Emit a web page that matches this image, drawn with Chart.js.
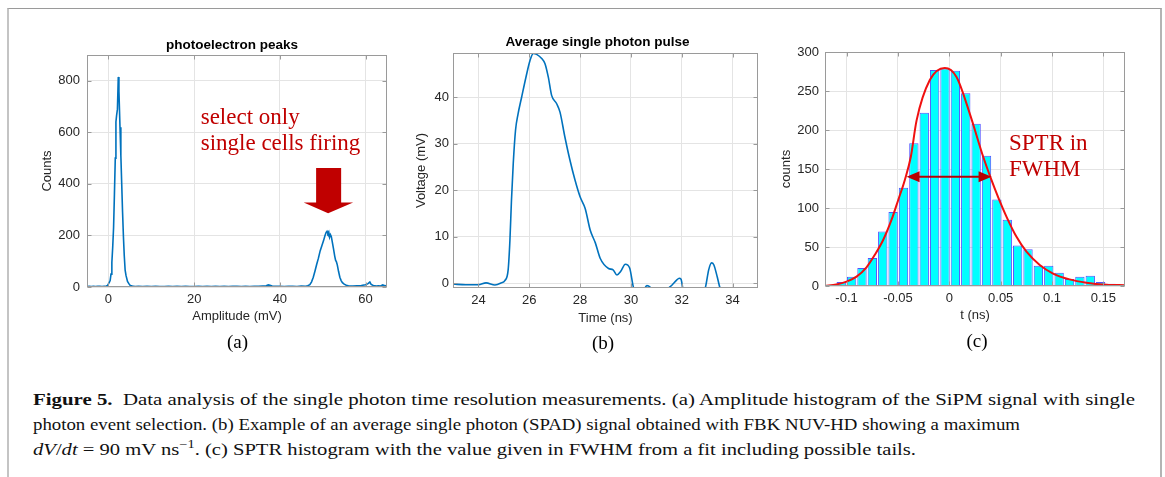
<!DOCTYPE html>
<html><head><meta charset="utf-8">
<script src="https://cdn.jsdelivr.net/npm/chart.js@4/dist/chart.umd.min.js"></script>
<style>
html,body{margin:0;padding:0;background:#fff;}
#fig{position:relative;width:1165px;height:477px;overflow:hidden;background:#fff;}
canvas{position:absolute;top:0;}
.t{position:absolute;white-space:nowrap;}
.ttl{font:bold 13.5px "Liberation Sans",Arial,sans-serif;line-height:16px;color:#000;transform:translateX(-50%);}
.lab{font:19px "Liberation Serif","Times New Roman",serif;line-height:22px;color:#000;transform:translateX(-50%);}
.ann{font:23px "Liberation Serif","Times New Roman",serif;line-height:26px;color:#c00000;}
.cap{font:17px "Liberation Serif","Times New Roman",serif;line-height:20px;color:#111;transform-origin:0 0;left:33px;}
.cap sup{font-size:0.7em;line-height:0;vertical-align:0.55em;}
.frame{position:absolute;left:7px;top:8px;width:1151px;height:520px;border-top:1px solid #9a9a9a;border-left:2px solid #c4c4c4;border-right:2px solid #b4b4b4;}
</style></head>
<body>
<div id="fig">
<div class="frame"></div>
<canvas id="ca" width="400" height="360" style="left:0px"></canvas>
<canvas id="cb" width="380" height="360" style="left:400px"></canvas>
<canvas id="cc" width="395" height="360" style="left:770px"></canvas>

<div class="t ttl" style="left:232px;top:36.5px">photoelectron peaks</div>
<div class="t ttl" style="left:597.6px;top:34px">Average single photon pulse</div>

<div class="t ann" style="left:200.7px;top:104px">select only<br>single cells firing</div>
<div class="t ann" style="left:1009px;top:130px">SPTR in<br>FWHM</div>

<div class="t lab" style="left:237.5px;top:331px">(a)</div>
<div class="t lab" style="left:603px;top:332px">(b)</div>
<div class="t lab" style="left:977px;top:330px">(c)</div>

<div class="t cap" data-w="1102" style="top:390px"><b>Figure 5.</b>&nbsp; Data analysis of the single photon time resolution measurements. (a) Amplitude histogram of the SiPM signal with single</div>
<div class="t cap" data-w="987" style="top:415px">photon event selection. (b) Example of an average single photon (SPAD) signal obtained with FBK NUV-HD showing a maximum</div>
<div class="t cap" data-w="883" style="top:439.5px"><i>dV</i>/<i>dt</i> = 90 mV ns<sup>−1</sup>. (c) SPTR histogram with the value given in FWHM from a fit including possible tails.</div>
</div>

<script>
// ---------- Panel (a): photoelectron peaks ----------
const ampX = [-5, -4.5, -4, -3.5, -3, -2.5, -2, -1.5, -1, -0.5, -0.2, 0, 0.2, 0.4, 0.6, 0.8, 1.0, 1.2, 1.4, 1.6, 1.75, 1.9, 2.1, 2.3, 2.45, 2.7, 2.9, 3.1, 3.3, 3.5, 3.7, 3.9, 4.1, 4.45, 4.8, 5.1, 5.6, 6.2, 7, 8, 9, 10, 11, 12, 13, 14, 15, 16, 17, 18, 19, 20, 21, 22, 23, 24, 25, 26, 27, 28, 29, 30, 31, 32, 33, 34, 35, 36, 36.8, 37.3, 37.7, 38.2, 39, 40, 41, 42, 43, 44, 45, 46, 46.5, 47, 47.4, 47.8, 48.2, 48.6, 49, 49.4, 49.8, 50.2, 50.5, 50.8, 51.0, 51.2, 51.4, 51.6, 51.8, 52.0, 52.2, 52.5, 52.8, 53.0, 53.2, 53.4, 53.7, 54.0, 54.3, 54.6, 55.0, 55.5, 56, 57, 58, 59, 60, 60.5, 61, 61.3, 61.8, 62.5, 63, 63.5, 64, 64.5, 65];
const ampCounts = [2, 3, 2, 3, 2, 3, 3, 2, 3, 4, 6, 12, 18, 25, 50, 95, 155, 230, 360, 500, 640, 665, 690, 815, 760, 620, 510, 400, 290, 195, 120, 65, 45, 22, 12, 6, 4, 2, 3, 2, 3, 2, 3, 2, 2, 3, 2, 3, 2, 3, 2, 2, 3, 2, 3, 2, 3, 2, 3, 2, 3, 3, 2, 3, 2, 3, 3, 4, 5, 8, 7, 4, 3, 3, 2, 3, 3, 2, 4, 3, 5, 9, 20, 38, 62, 88, 112, 140, 160, 180, 198, 212, 216, 208, 214, 193, 203, 196, 178, 150, 120, 104, 98, 86, 60, 38, 25, 17, 11, 7, 5, 4, 5, 6, 9, 12, 19, 10, 6, 4, 5, 4, 8, 5, 6];
const aXTicks = [0, 20, 40, 60];
const aXLabels = ['0', '20', '40', '60'];
const aYTicks = [0, 200, 400, 600, 800];
const aYLabels = ['0', '200', '400', '600', '800'];

// ---------- Panel (b): average single photon pulse ----------
const pulseT = [23.0, 23.5, 24.0, 24.3, 24.65, 24.9, 25.04, 25.17, 25.24, 25.3, 25.37, 25.46, 25.56, 25.7, 25.87, 26.03, 26.16, 26.29, 26.49, 26.62, 26.75, 26.88, 27.08, 27.21, 27.4, 27.6, 27.8, 28.0, 28.2, 28.4, 28.6, 28.79, 29.12, 29.3, 29.45, 29.6, 29.78, 29.95, 30.1, 30.3, 30.5, 30.63, 30.75, 30.95, 31.3, 31.49, 31.62, 31.8, 31.9, 31.97, 32.05, 32.3, 32.7, 32.93, 33.06, 33.17, 33.26, 33.4, 33.5, 33.7, 34.2, 34.6, 35.0];
const pulseV = [-0.15, -0.3, -0.3, 0.1, -0.35, 0.1, 0.6, 2.9, 9.3, 17.8, 25.7, 32.9, 36.4, 40.0, 44.3, 47.9, 49.4, 49.2, 48.3, 47.2, 44.3, 40.4, 38.6, 36.8, 31.5, 26.5, 22.2, 18.6, 16.1, 11.4, 8.7, 5.4, 3.2, 2.9, 1.8, 2.6, 4.1, 3.3, -0.9, -3, -1.5, -0.5, -0.8, -2.5, -3, -1.0, -0.36, 0.7, 1.1, 0.9, -1.2, -3, -3, -0.9, 2.9, 4.4, 4.0, 1.3, -0.9, -3, -4, -4, -4];
const bXTicks = [24, 26, 28, 30, 32, 34];
const bXLabels = ['24', '26', '28', '30', '32', '34'];
const bYTicks = [0, 10, 20, 30, 40];
const bYLabels = ['0', '10', '20', '30', '40'];

// ---------- Panel (c): SPTR histogram ----------
const binCenters = [-0.1052, -0.0951, -0.0850, -0.0749, -0.0648, -0.0547, -0.0446, -0.0345, -0.0244, -0.0143, -0.0042, 0.0059, 0.0160, 0.0261, 0.0362, 0.0463, 0.0564, 0.0665, 0.0766, 0.0867, 0.0968, 0.1069, 0.1170, 0.1271, 0.1372, 0.1473, 0.1574, 0.1675];
const binCounts = [5, 12, 23, 36, 70, 95, 126, 183, 222, 277, 279, 276, 247, 208, 167, 111, 85, 52, 47, 26, 26, 17, 9, 12, 13, 5, 3, 1];
const fitT = [-0.121, -0.11, -0.1, -0.0903, -0.0806, -0.0725, -0.0644, -0.0562, -0.0498, -0.0433, -0.0374, -0.0319, -0.019, -0.0044, 0.007, 0.0199, 0.0329, 0.041, 0.0475, 0.0556, 0.0654, 0.0751, 0.088, 0.101, 0.117, 0.1335, 0.153, 0.171];
const fitCounts = [0.3, 2, 5.6, 12, 24, 40, 59, 85, 110, 136, 166, 212, 264, 279.5, 268, 221, 166, 136, 114, 89, 63, 44, 27, 16, 8.5, 4.3, 1.7, 1.0];
const cXTicks = [-0.1, -0.05, 0, 0.05, 0.1, 0.15];
const cXLabels = ['-0.1', '-0.05', '0', '0.05', '0.1', '0.15'];
const cYTicks = [0, 50, 100, 150, 200, 250, 300];
const cYLabels = ['0', '50', '100', '150', '200', '250', '300'];

// ---------- styling ----------
const TXT = '#262626';
const GRID = '#e4e4e4';
const BOX = '#9a9a9a';
const LINE_BLUE = '#0072BD';
Chart.defaults.font.family = '"Liberation Sans", Arial, sans-serif';
Chart.defaults.font.size = 13;
Chart.defaults.color = TXT;

const boxPlugin = {
  id: 'matlabBox',
  afterDatasetsDraw(chart) {
    const {ctx, chartArea: a, scales} = chart;
    const L = Math.round(a.left) + 0.5, R = Math.round(a.right) - 0.5;
    const T = Math.round(a.top) + 0.5, B = Math.round(a.bottom) - 0.5;
    ctx.save();
    ctx.strokeStyle = BOX; ctx.lineWidth = 1;
    ctx.strokeRect(L, T, R - L, B - T);
    ctx.beginPath();
    scales.x.ticks.forEach(t => {
      const p = Math.round(scales.x.getPixelForValue(t.value)) + 0.5;
      ctx.moveTo(p, B); ctx.lineTo(p, B - 4); ctx.moveTo(p, T); ctx.lineTo(p, T + 4);
    });
    scales.y.ticks.forEach(t => {
      const p = Math.round(scales.y.getPixelForValue(t.value)) + 0.5;
      ctx.moveTo(L, p); ctx.lineTo(L + 4, p); ctx.moveTo(R, p); ctx.lineTo(R - 4, p);
    });
    ctx.stroke();
    ctx.restore();
  }
};

function makeAnnot(items) {
  return {
    id: 'annot',
    afterDraw(chart) {
      const {ctx} = chart; const x = chart.scales.x, y = chart.scales.y;
      items.forEach(it => {
        ctx.save(); ctx.fillStyle = it.color; ctx.strokeStyle = it.color;
        if (it.kind === 'blockDown') {
          const xl = x.getPixelForValue(it.shaftX0), xr = x.getPixelForValue(it.shaftX1);
          const yt = y.getPixelForValue(it.topY), yb = y.getPixelForValue(it.headY);
          const hl = x.getPixelForValue(it.headX0), hr = x.getPixelForValue(it.headX1);
          const tx = x.getPixelForValue(it.tipX), ty = y.getPixelForValue(it.tipY);
          ctx.beginPath();
          ctx.moveTo(xl, yt); ctx.lineTo(xr, yt); ctx.lineTo(xr, yb); ctx.lineTo(hr, yb);
          ctx.lineTo(tx, ty); ctx.lineTo(hl, yb); ctx.lineTo(xl, yb); ctx.closePath(); ctx.fill();
        } else if (it.kind === 'double') {
          const x0 = x.getPixelForValue(it.x0), x1 = x.getPixelForValue(it.x1), yy = y.getPixelForValue(it.y);
          const hl = 13, hw = 5.5;
          ctx.lineWidth = 2;
          ctx.beginPath(); ctx.moveTo(x0 + hl - 2, yy); ctx.lineTo(x1 - hl + 2, yy); ctx.stroke();
          ctx.beginPath(); ctx.moveTo(x0, yy); ctx.lineTo(x0 + hl, yy - hw); ctx.lineTo(x0 + hl, yy + hw); ctx.closePath(); ctx.fill();
          ctx.beginPath(); ctx.moveTo(x1, yy); ctx.lineTo(x1 - hl, yy - hw); ctx.lineTo(x1 - hl, yy + hw); ctx.closePath(); ctx.fill();
        }
        ctx.restore();
      });
    }
  };
}

function baseOpts(p) {
  return {
    responsive: false, animation: false, events: [],
    layout: {padding: {left: 0, top: p.top, right: p.right, bottom: 0}},
    plugins: {legend: {display: false}, tooltip: {enabled: false}, title: {display: false}},
    scales: {
      x: {
        type: 'linear', min: p.xmin, max: p.xmax, offset: false,
        afterFit: s => { s.height = p.xh; },
        afterBuildTicks: s => { s.ticks = p.xt.map(v => ({value: v})); },
        grid: {color: GRID, drawTicks: false, offset: false}, border: {display: false},
        ticks: {padding: 5, color: TXT, font: {size: 13}, maxRotation: 0, autoSkip: false,
                callback: (v, i) => p.xl[i]},
        title: {display: true, text: p.xtitle, color: TXT, font: {size: 13}, padding: {top: 0, bottom: p.xtp}}
      },
      y: {
        type: 'linear', min: p.ymin, max: p.ymax,
        afterFit: s => { s.width = p.yw; },
        afterBuildTicks: s => { s.ticks = p.yt.map(v => ({value: v})); },
        grid: {color: GRID, drawTicks: false}, border: {display: false},
        ticks: {padding: p.ypad, color: TXT, font: {size: 13}, autoSkip: false,
                callback: (v, i) => p.yl[i]},
        title: {display: true, text: p.ytitle, color: TXT, font: {size: 13}, padding: {top: p.ytp, bottom: 0}}
      }
    }
  };
}

// Panel (a)
new Chart(document.getElementById('ca'), {
  type: 'line',
  data: {datasets: [{
    data: ampX.map((v, i) => ({x: v, y: ampCounts[i]})),
    borderColor: LINE_BLUE, borderWidth: 1.6, pointRadius: 0, tension: 0, clip: 0
  }]},
  options: baseOpts({top: 55, right: 13, xh: 73, yw: 87, xmin: -5, xmax: 65, ymin: 0, ymax: 900,
    xt: aXTicks, xl: aXLabels, yt: aYTicks, yl: aYLabels, xtitle: 'Amplitude (mV)', ytitle: 'Counts',
    xtp: 36, ytp: 40, ypad: 7}),
  plugins: [boxPlugin, makeAnnot([{kind: 'blockDown', color: '#c00000',
    shaftX0: 48.46, shaftX1: 54.3, topY: 462, headY: 328, headX0: 45.56, headX1: 57.1, tipX: 51.26, tipY: 286}])]
});

// Panel (b)
new Chart(document.getElementById('cb'), {
  type: 'line',
  data: {datasets: [{
    data: pulseT.map((v, i) => ({x: v, y: pulseV[i]})),
    borderColor: LINE_BLUE, borderWidth: 1.6, pointRadius: 0, cubicInterpolationMode: 'monotone', clip: 0
  }]},
  options: baseOpts({top: 53, right: 22, xh: 72, yw: 53, xmin: 23, xmax: 35, ymin: -1, ymax: 49.5,
    xt: bXTicks, xl: bXLabels, yt: bYTicks, yl: bYLabels, xtitle: 'Time (ns)', ytitle: 'Voltage (mV)',
    xtp: 34, ytp: 14, ypad: 4}),
  plugins: [boxPlugin]
});

// Panel (c)
new Chart(document.getElementById('cc'), {
  type: 'bar',
  data: {datasets: [
    {type: 'line', order: 0, data: fitT.map((v, i) => ({x: v, y: fitCounts[i]})),
     borderColor: '#f01010', borderWidth: 2, pointRadius: 0, cubicInterpolationMode: 'monotone', clip: 0},
    {type: 'bar', order: 1, data: binCenters.map((v, i) => ({x: v, y: binCounts[i]})),
     backgroundColor: '#00ffff', borderColor: '#5252ff', borderWidth: 1,
     barPercentage: 0.9, categoryPercentage: 1.0}
  ]},
  options: baseOpts({top: 52, right: 40, xh: 74, yw: 55, xmin: -0.121, xmax: 0.171, ymin: 0, ymax: 300,
    xt: cXTicks, xl: cXLabels, yt: cYTicks, yl: cYLabels, xtitle: 't (ns)', ytitle: 'counts',
    xtp: 37, ytp: 9, ypad: 6}),
  plugins: [boxPlugin, makeAnnot([{kind: 'double', color: '#b80000', x0: -0.0416, x1: 0.0411, y: 140}])]
});

// fit caption lines to their measured widths
document.querySelectorAll('.cap').forEach(el => {
  const w = el.getBoundingClientRect().width;
  const target = parseFloat(el.dataset.w);
  if (w > 0) el.style.transform = 'scaleX(' + (target / w) + ')';
});
</script>
</body></html>
